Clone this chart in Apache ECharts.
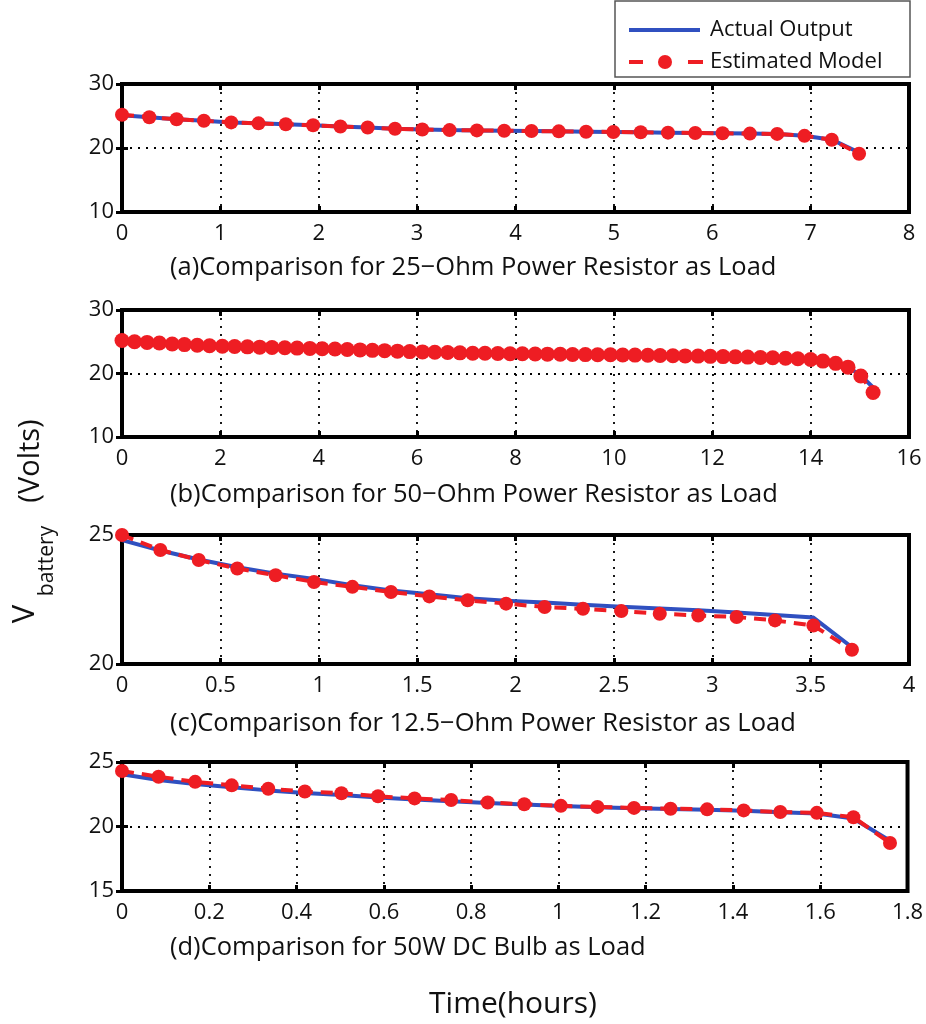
<!DOCTYPE html>
<html><head><meta charset="utf-8">
<script src="https://cdn.jsdelivr.net/npm/echarts@6/dist/echarts.min.js"></script>
<style>html,body{margin:0;padding:0;background:#fff}#c{width:926px;height:1024px}</style>
</head><body><div id="c"></div>
<script>
// ---- Panel (a): 25-Ohm ----
const timeA = [0,0.2775,0.555,0.8325,1.11,1.3875,1.665,1.9425,2.22,2.4975,2.775,3.0525,3.33,3.6075,3.885,4.1625,4.44,4.7175,4.995,5.2725,5.55,5.8275,6.105,6.3825,6.66,6.9375,7.215,7.4925];
const actualA = [25.1,24.8,24.5,24.25,24.0,23.85,23.7,23.55,23.35,23.2,23.0,22.9,22.8,22.75,22.7,22.65,22.6,22.55,22.5,22.45,22.4,22.35,22.3,22.25,22.2,21.9,21.3,19.3];
const modelA  = [25.2,24.8,24.5,24.25,24.0,23.85,23.7,23.55,23.35,23.2,23.0,22.9,22.8,22.75,22.7,22.65,22.6,22.55,22.5,22.45,22.4,22.35,22.3,22.25,22.2,21.9,21.3,19.1];
// ---- Panel (b): 50-Ohm ----
const timeB = [0,0.255,0.51,0.76,1.02,1.27,1.53,1.78,2.04,2.29,2.55,2.8,3.05,3.31,3.56,3.82,4.07,4.33,4.58,4.84,5.09,5.34,5.6,5.85,6.11,6.36,6.62,6.87,7.13,7.38,7.64,7.89,8.14,8.4,8.65,8.91,9.16,9.42,9.67,9.93,10.18,10.43,10.69,10.94,11.2,11.45,11.71,11.96,12.22,12.47,12.72,12.98,13.23,13.49,13.74,14.0,14.25,14.51,14.76,15.02,15.27];
const modelB = [25.2,25.0,24.9,24.8,24.65,24.55,24.45,24.38,24.3,24.25,24.2,24.15,24.1,24.05,24.0,23.95,23.9,23.85,23.78,23.72,23.65,23.6,23.52,23.45,23.4,23.35,23.3,23.25,23.2,23.18,23.15,23.12,23.1,23.08,23.05,23.03,23.0,22.98,22.96,22.95,22.92,22.9,22.87,22.84,22.8,22.77,22.74,22.7,22.66,22.62,22.58,22.53,22.47,22.4,22.32,22.2,21.95,21.6,21.0,19.6,17.0];
const actualB = [25.1,25.0,24.9,24.8,24.65,24.55,24.45,24.38,24.3,24.25,24.2,24.15,24.1,24.05,24.0,23.95,23.9,23.85,23.78,23.72,23.65,23.6,23.52,23.45,23.4,23.35,23.3,23.25,23.2,23.18,23.15,23.12,23.1,23.08,23.05,23.03,23.0,22.98,22.96,22.95,22.92,22.9,22.87,22.84,22.8,22.77,22.74,22.7,22.66,22.62,22.58,22.53,22.47,22.4,22.32,22.2,21.95,21.6,21.0,19.7,17.8];
// ---- Panel (c): 12.5-Ohm ----
const timeC = [0,0.195,0.39,0.586,0.781,0.976,1.171,1.367,1.562,1.757,1.952,2.148,2.343,2.538,2.733,2.929,3.124,3.319,3.514,3.71];
const actualC = [24.8,24.4,24.05,23.75,23.5,23.3,23.05,22.85,22.7,22.55,22.45,22.38,22.3,22.22,22.15,22.08,22.0,21.9,21.8,20.65];
const modelC  = [25.0,24.42,24.03,23.7,23.44,23.18,22.99,22.79,22.62,22.47,22.34,22.21,22.14,22.05,21.95,21.88,21.82,21.69,21.49,20.55];
// ---- Panel (d): 50W DC bulb ----
const timeD = [0,0.0838,0.1676,0.2514,0.3352,0.419,0.5028,0.5866,0.6704,0.7542,0.838,0.9218,1.0056,1.0894,1.1732,1.257,1.3408,1.4246,1.5084,1.5922,1.676,1.7598];
const actualD = [24.05,23.6,23.3,23.05,22.8,22.6,22.45,22.25,22.1,21.95,21.82,21.7,21.58,21.5,21.42,21.36,21.3,21.22,21.1,21.0,20.62,18.9];
const modelD  = [24.3,23.86,23.46,23.19,22.93,22.71,22.58,22.34,22.18,22.05,21.86,21.73,21.6,21.52,21.44,21.38,21.33,21.25,21.12,21.06,20.72,18.72];

const xMax = [8,16,4,1.8], xInt = [1,2,0.5,0.2];
const yMin = [10,10,20,15], yMax = [30,30,25,25], yInt = [10,10,5,5];
const captions = ['(a)Comparison for 25\u2212Ohm Power Resistor as Load','(b)Comparison for 50\u2212Ohm Power Resistor as Load','(c)Comparison for 12.5\u2212Ohm Power Resistor as Load','(d)Comparison for 50W DC Bulb as Load'];
const seriesNames = ['Actual Output','Estimated Model'];

const panels = [[timeA,actualA,modelA],[timeB,actualB,modelB],[timeC,actualC,modelC],[timeD,actualD,modelD]];
const tops = [84,310,535,762], heights = [128,127,129,129];
const capY = [268,495,724,948];
const FONT = 'Open Sans';
const BLUE = '#3050c0', RED = '#ee1d23';

const zip = (xs, ys) => xs.map((x,i)=>[x, ys[i]]);
const grid=[], xAxis=[], yAxis=[], series=[], graphic=[];
const dotted = {show:true, lineStyle:{color:'#000', width:1.8, type:[2,6]}};
panels.forEach((p,i)=>{
  grid.push({left:122, right:17, top:tops[i], height:heights[i], show:true, borderColor:'#000', borderWidth:4, backgroundColor:'transparent'});
  const tick = {show:true, inside:true, length:6, lineStyle:{color:'#000', width:3}};
  xAxis.push({type:'value', gridIndex:i, min:0, max:xMax[i], interval:xInt[i], position:'bottom',
    axisLine:{show:false}, axisTick:tick, splitLine:dotted,
    axisLabel:{fontSize:22, color:'#111', fontFamily:FONT, margin:11}});
  xAxis.push({type:'value', gridIndex:i, min:0, max:xMax[i], interval:xInt[i], position:'top',
    axisLine:{show:false}, axisTick:tick, splitLine:{show:false}, axisLabel:{show:false}});
  yAxis.push({type:'value', gridIndex:i, min:yMin[i], max:yMax[i], interval:yInt[i], position:'left',
    axisLine:{show:false}, axisTick:tick, splitLine:dotted,
    axisLabel:{fontSize:22, color:'#111', fontFamily:FONT, margin:8}});
  yAxis.push({type:'value', gridIndex:i, min:yMin[i], max:yMax[i], interval:yInt[i], position:'right',
    axisLine:{show:false}, axisTick:tick, splitLine:{show:false}, axisLabel:{show:false}});
  series.push({name:seriesNames[0], type:'line', xAxisIndex:2*i, yAxisIndex:2*i, data:zip(p[0],p[1]),
    showSymbol:false, symbol:'none', clip:false, lineStyle:{color:BLUE, width:4}, itemStyle:{color:BLUE}, z:3, animation:false});
  series.push({name:seriesNames[1], type:'line', xAxisIndex:2*i, yAxisIndex:2*i, data:zip(p[0],p[2]),
    symbol:'circle', symbolSize:i===1?15:14, clip:false, lineStyle:{color:RED, width:4, type:[12,8]}, itemStyle:{color:RED}, z:4, animation:false});
  graphic.push({type:'text', x:170, y:capY[i], style:{text:captions[i], font:'25.5px "Open Sans"', fill:'#111', textAlign:'left', textVerticalAlign:'middle'}});
});
graphic.push({type:'text', x:513, y:1004, style:{text:'Time(hours)', font:'30px "Open Sans"', fill:'#111', textAlign:'center', textVerticalAlign:'middle'}});
graphic.push({type:'text', x:25, y:614, rotation:Math.PI/2, style:{text:'V', font:'31px "Open Sans"', fill:'#111', textAlign:'center', textVerticalAlign:'middle'}});
graphic.push({type:'text', x:47, y:561, rotation:Math.PI/2, style:{text:'battery', font:'21px "Open Sans"', fill:'#111', textAlign:'center', textVerticalAlign:'middle'}});
graphic.push({type:'text', x:31, y:461, rotation:Math.PI/2, style:{text:'(Volts)', font:'29px "Open Sans"', fill:'#111', textAlign:'center', textVerticalAlign:'middle'}});
// legend box
graphic.push({type:'rect', shape:{x:615, y:1, width:295, height:76}, style:{fill:'#fff', stroke:'#555', lineWidth:1.5}, z:20});
graphic.push({type:'line', shape:{x1:629, y1:30, x2:700, y2:30}, style:{stroke:BLUE, lineWidth:4}, z:21});
graphic.push({type:'line', shape:{x1:629, y1:62, x2:643, y2:62}, style:{stroke:RED, lineWidth:4}, z:21});
graphic.push({type:'line', shape:{x1:688, y1:62, x2:703, y2:62}, style:{stroke:RED, lineWidth:4}, z:21});
graphic.push({type:'circle', shape:{cx:665, cy:62, r:7}, style:{fill:RED}, z:21});
graphic.push({type:'text', x:710, y:30, style:{text:seriesNames[0], font:'22px "Open Sans"', fill:'#111', textVerticalAlign:'middle'}, z:21});
graphic.push({type:'text', x:710, y:62, style:{text:seriesNames[1], font:'22px "Open Sans"', fill:'#111', textVerticalAlign:'middle'}, z:21});

const chart = echarts.init(document.getElementById('c'), null, {renderer:'canvas'});
chart.setOption({
  animation:false,
  backgroundColor:'#fff',
  grid, xAxis, yAxis, series, graphic
});
</script></body></html>
